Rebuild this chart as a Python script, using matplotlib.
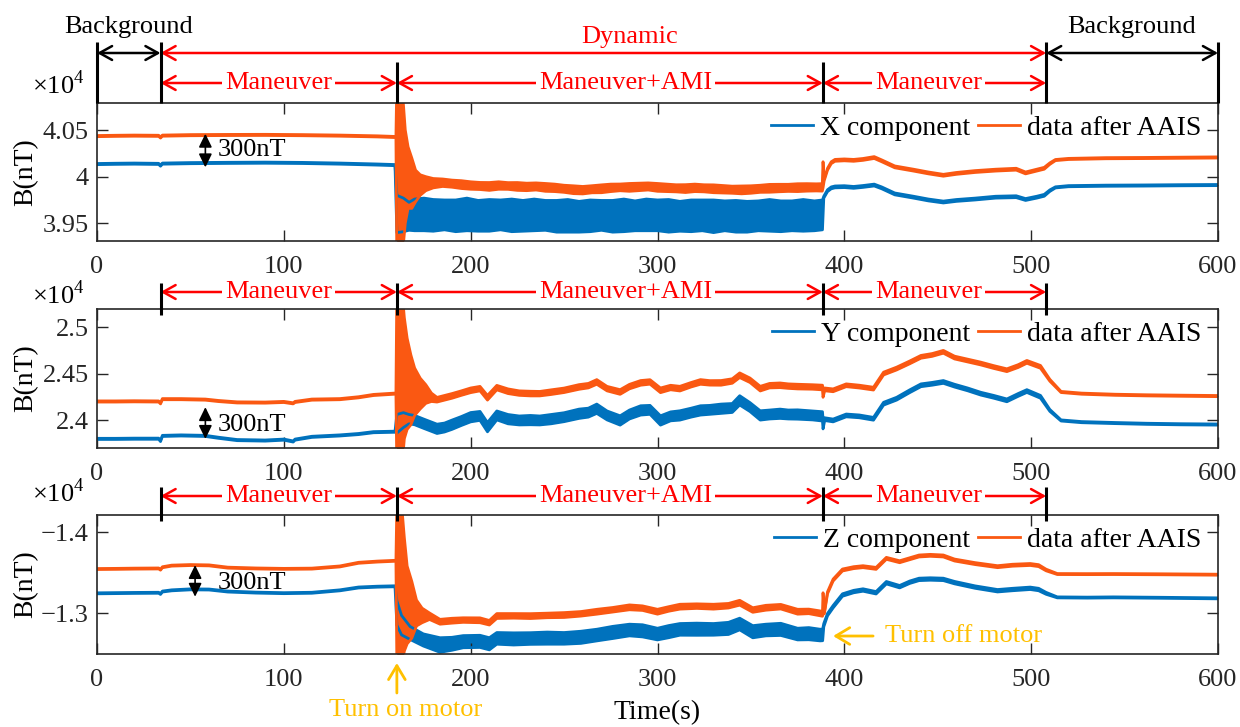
import matplotlib
matplotlib.use('Agg')
import matplotlib.pyplot as plt
import numpy as np
from matplotlib import transforms
from matplotlib.lines import Line2D

plt.rcParams['font.family'] = ['Liberation Serif', 'DejaVu Serif']
plt.rcParams['mathtext.fontset'] = 'custom'
plt.rcParams['mathtext.rm'] = 'Liberation Serif'
plt.rcParams['font.size'] = 19

# ---- data (nT): rows are [time, centre, half band width of the noise] ----
x_raw = [
    [0, 40135, 6], [10, 40138, 6], [20, 40140, 6], [33, 40137, 6], [34, 40118, 6], [35, 40140, 6],
    [50, 40145, 6], [70, 40148, 6], [90, 40150, 6], [110, 40147, 6], [130, 40140, 6], [150, 40130, 6],
    [159.5, 40124, 6],
    [160.5, 39600, 200], [164, 39590, 180], [167, 39575, 150], [170, 39590, 170], [175, 39595, 175],
    [180, 39585, 170], [186, 39590, 160], [192, 39580, 170], [198, 39595, 175], [204, 39580, 165],
    [210, 39585, 170], [216, 39590, 160], [222, 39585, 175], [228, 39580, 165], [234, 39590, 170],
    [240, 39585, 160], [246, 39575, 170], [252, 39580, 175], [258, 39570, 165], [264, 39580, 170],
    [270, 39585, 160], [276, 39575, 170], [282, 39585, 175], [288, 39580, 160], [294, 39590, 170],
    [300, 39585, 165], [306, 39580, 175], [312, 39575, 160], [318, 39580, 170], [324, 39585, 165],
    [330, 39575, 175], [336, 39580, 160], [342, 39575, 170], [348, 39570, 165], [354, 39580, 160],
    [360, 39585, 170], [366, 39575, 165], [372, 39580, 160], [378, 39585, 170], [384, 39580, 160],
    [388.3, 39590, 160],
    [389, 39780, 10], [391, 39850, 10], [393, 39880, 10], [395, 39890, 10], [400, 39893, 10],
    [405, 39885, 10], [410, 39895, 10], [416, 39910, 10], [420, 39880, 10], [427, 39815, 10],
    [437, 39780, 10], [445, 39750, 10], [453, 39728, 10], [460, 39745, 10], [470, 39760, 10],
    [481, 39780, 10], [492, 39785, 10], [497, 39755, 10], [503, 39780, 10], [507, 39800, 10],
    [510, 39850, 8], [513, 39885, 6], [520, 39898, 6], [540, 39903, 6], [560, 39905, 6],
    [580, 39908, 6], [600, 39910, 6],
]
x_aais = [
    [0, 40435, 6], [10, 40438, 6], [20, 40440, 6], [33, 40438, 6], [34, 40420, 6], [35, 40440, 6],
    [50, 40445, 6], [70, 40447, 6], [90, 40448, 6], [110, 40445, 6], [130, 40440, 6], [150, 40432, 6],
    [160, 40425, 6],
    [160.5, 40050, 1000], [163, 40050, 1000], [165, 40000, 500], [166.5, 39990, 330],
    [168.5, 39930, 270], [170.5, 39900, 170], [173, 39910, 110], [176, 39925, 75], [180, 39930, 50],
    [185, 39935, 40], [190, 39925, 38], [195, 39915, 42], [200, 39905, 40], [205, 39900, 38],
    [210, 39895, 42], [215, 39905, 40], [220, 39900, 36], [225, 39895, 42], [230, 39890, 40],
    [235, 39895, 38], [240, 39885, 42], [245, 39880, 40], [250, 39870, 38], [255, 39860, 42],
    [260, 39855, 40], [265, 39865, 38], [270, 39870, 42], [275, 39880, 40], [280, 39885, 36],
    [285, 39885, 42], [290, 39890, 40], [295, 39895, 38], [300, 39885, 42], [305, 39880, 40],
    [310, 39875, 38], [315, 39872, 42], [320, 39880, 40], [325, 39875, 38], [330, 39870, 42],
    [335, 39865, 40], [340, 39860, 38], [345, 39858, 42], [350, 39862, 40], [355, 39870, 38],
    [360, 39875, 42], [365, 39878, 40], [370, 39880, 38], [375, 39882, 42], [380, 39885, 40],
    [385, 39885, 38], [388.2, 39885, 40],
    [388.6, 40020, 140], [389.2, 39965, 10], [391, 40080, 10], [393, 40150, 10], [395, 40175, 10],
    [400, 40180, 10], [405, 40175, 10], [410, 40185, 10], [416, 40205, 10], [420, 40170, 10],
    [427, 40105, 10], [437, 40070, 10], [445, 40040, 10], [453, 40015, 10], [460, 40035, 10],
    [470, 40055, 10], [481, 40070, 10], [492, 40080, 10], [497, 40040, 10], [503, 40070, 10],
    [507, 40090, 10], [510, 40140, 8], [513, 40178, 6], [520, 40190, 6], [540, 40198, 6],
    [560, 40200, 6], [580, 40203, 6], [600, 40206, 6],
]

y_raw = [
    [0, 23798, 6], [10, 23798, 6], [20, 23800, 6], [33, 23800, 6], [34, 23775, 6], [35, 23830, 6],
    [45, 23835, 6], [58, 23830, 6], [65, 23810, 6], [75, 23785, 6], [90, 23780, 6], [100, 23790, 6],
    [105, 23770, 6], [106, 23790, 6], [115, 23820, 6], [130, 23835, 6], [140, 23850, 6],
    [148, 23870, 6], [159.5, 23875, 6],
    [160.5, 23960, 100], [164, 24000, 80], [167, 24010, 50], [170, 24000, 50], [175, 23960, 50],
    [182, 23906, 50], [186, 23920, 48], [190, 23950, 50], [195, 23990, 48], [200, 24031, 50],
    [205, 24045, 48], [209, 23924, 50], [214, 24050, 48], [220, 24010, 50], [226, 23996, 48],
    [232, 24000, 50], [237, 23996, 48], [243, 24010, 50], [250, 24031, 48], [258, 24068, 50],
    [263, 24080, 48], [267.5, 24122, 50], [273, 24050, 48], [280, 23996, 50], [285, 24060, 48],
    [291, 24104, 50], [296, 24110, 48], [301.6, 23996, 50], [307, 24040, 48], [312, 24050, 50],
    [318, 24080, 48], [323, 24104, 50], [328, 24110, 48], [334, 24122, 50], [340, 24130, 48],
    [344, 24212, 50], [349.5, 24140, 48], [355, 24050, 50], [360, 24060, 48], [365.6, 24068, 50],
    [370, 24060, 48], [375, 24060, 50], [383, 24050, 48], [388.3, 24040, 50],
    [388.6, 23960, 55], [389.5, 24010, 15], [394, 23996, 15], [401, 24050, 15], [408, 24040, 15],
    [415.6, 24014, 15], [421, 24176, 15], [428, 24230, 15], [435, 24310, 15], [441, 24374, 15],
    [447, 24390, 15], [453, 24410, 15], [459, 24370, 15], [466, 24330, 15], [473, 24284, 15],
    [480, 24250, 15], [487, 24212, 15], [493, 24270, 15], [497.7, 24312, 15], [505, 24250, 15],
    [510, 24104, 10], [516, 23996, 6], [527, 23978, 6], [545, 23968, 6], [562, 23960, 6],
    [580, 23955, 6], [600, 23952, 6],
]
y_aais = [
    [0, 24200, 6], [10, 24200, 6], [20, 24202, 6], [33, 24200, 6], [34, 24180, 6], [35, 24225, 6],
    [45, 24225, 6], [58, 24220, 6], [65, 24205, 6], [75, 24190, 6], [90, 24188, 6], [100, 24195, 6],
    [105, 24180, 6], [106, 24195, 6], [115, 24220, 6], [130, 24225, 6], [140, 24245, 6],
    [148, 24270, 6], [160, 24285, 6],
    [160.5, 24450, 1000], [163, 24450, 1000], [164.5, 24450, 650], [166, 24390, 490],
    [168, 24325, 375], [170, 24305, 255], [173, 24285, 165], [176, 24280, 100], [179, 24245, 45],
    [182, 24219, 25], [190, 24260, 25], [195, 24290, 24], [200, 24320, 25], [205, 24338, 24],
    [209, 24240, 25], [214, 24349, 24], [220, 24310, 25], [226, 24290, 24], [232, 24285, 25],
    [237, 24284, 24], [243, 24300, 25], [250, 24320, 24], [258, 24356, 25], [263, 24370, 24],
    [267.5, 24410, 25], [273, 24338, 24], [280, 24302, 25], [285, 24360, 24], [291, 24400, 25],
    [296, 24410, 24], [301.6, 24320, 25], [307, 24350, 24], [312, 24338, 25], [318, 24380, 24],
    [323, 24410, 25], [328, 24400, 24], [334, 24400, 25], [340, 24420, 24], [344, 24482, 25],
    [349.5, 24428, 24], [355, 24338, 25], [360, 24370, 24], [365.6, 24374, 25], [370, 24365, 24],
    [375, 24360, 25], [383, 24356, 24], [388.3, 24350, 25],
    [388.6, 24290, 45], [389.5, 24330, 15], [394, 24320, 15], [401, 24374, 15], [408, 24360, 15],
    [415.6, 24338, 15], [421, 24500, 15], [428, 24554, 15], [435, 24620, 15], [441, 24680, 15],
    [447, 24700, 15], [453, 24734, 15], [459, 24672, 15], [466, 24640, 15], [473, 24608, 15],
    [480, 24570, 15], [487, 24536, 15], [493, 24580, 15], [497.7, 24626, 15], [505, 24572, 15],
    [510, 24428, 10], [516, 24302, 6], [527, 24284, 6], [545, 24272, 6], [562, 24266, 6],
    [580, 24262, 6], [600, 24258, 6],
]

z_raw = [
    [0, -13243, 6], [20, -13248, 6], [33, -13250, 6], [34, -13235, 6], [35, -13265, 6],
    [40, -13280, 6], [50, -13292, 6], [60, -13290, 6], [70, -13265, 6], [85, -13252, 6],
    [100, -13245, 6], [115, -13250, 6], [130, -13280, 6], [140, -13315, 6], [150, -13325, 6],
    [159.5, -13330, 6],
    [160.5, -13000, 150], [163, -12850, 120], [167.6, -12753, 80], [174.7, -12667, 75],
    [183.6, -12605, 90], [190, -12620, 80], [196, -12646, 75], [205, -12650, 75], [210, -12620, 75],
    [214, -12687, 72], [223, -12680, 75], [232, -12685, 72], [241, -12690, 75], [250, -12687, 72],
    [259, -12700, 75], [267.6, -12728, 72], [276, -12760, 75], [285, -12790, 72], [292, -12780, 75],
    [300, -12740, 72], [306, -12770, 75], [312, -12798, 72], [321, -12800, 75], [330, -12798, 72],
    [338, -12810, 75], [344, -12864, 72], [351, -12769, 75], [358, -12790, 72], [366, -12798, 75],
    [375, -12740, 72], [381, -12745, 75], [387, -12728, 72], [388.4, -12730, 72],
    [389, -12850, 20], [391, -12980, 15], [394, -13078, 15], [399, -13222, 15], [405, -13265, 15],
    [410, -13284, 15], [417, -13250, 15], [422.5, -13374, 15], [429.6, -13325, 15], [435, -13380, 15],
    [440, -13415, 15], [446, -13420, 15], [453, -13415, 15], [459, -13375, 15], [470, -13320, 15],
    [482, -13275, 15], [490, -13290, 15], [499.5, -13305, 15], [504, -13290, 15], [508, -13243, 12],
    [514, -13193, 6], [530, -13190, 6], [544, -13193, 6], [570, -13188, 6], [600, -13181, 6],
]
z_aais = [
    [0, -13543, 6], [10, -13545, 6], [20, -13548, 6], [33, -13550, 6], [34, -13535, 6],
    [35, -13565, 6], [40, -13585, 6], [50, -13592, 6], [60, -13588, 6], [70, -13560, 6],
    [85, -13550, 6], [100, -13545, 6], [115, -13548, 6], [130, -13575, 6], [140, -13620, 6],
    [150, -13635, 6], [160, -13645, 6],
    [160.5, -13350, 1000], [163, -13350, 1000], [164.5, -13230, 700], [166, -13100, 480],
    [168.5, -13040, 350], [171, -13000, 160], [174, -12970, 90], [178, -12960, 40],
    [183.6, -12892, 30], [190, -12905, 30], [196, -12913, 28], [205, -12910, 30], [210, -12880, 28],
    [214, -12963, 30], [223, -12965, 28], [232, -12962, 30], [241, -12970, 28], [250, -12975, 30],
    [259, -12990, 28], [267.6, -13016, 30], [276, -13040, 28], [285, -13070, 30], [292, -13060, 28],
    [300, -13016, 30], [306, -13050, 28], [312, -13078, 30], [321, -13085, 28], [330, -13078, 30],
    [338, -13090, 28], [344, -13127, 30], [351, -13037, 28], [358, -13065, 30], [366, -13078, 28],
    [375, -13016, 30], [381, -13020, 28], [387, -12996, 30], [388.3, -12990, 30],
    [388.6, -13120, 130], [389.3, -13000, 10], [391, -13250, 12], [394, -13407, 12],
    [399, -13531, 12], [405, -13560, 12], [410, -13572, 12], [417, -13551, 12], [422.5, -13675, 12],
    [429.6, -13633, 12], [435, -13670, 12], [440, -13704, 12], [446, -13712, 12], [453, -13704, 12],
    [459, -13654, 12], [470, -13610, 12], [482, -13572, 12], [490, -13590, 12], [499.5, -13599, 12],
    [504, -13585, 12], [508, -13531, 10], [514, -13481, 6], [530, -13480, 6], [544, -13481, 6],
    [570, -13478, 6], [600, -13473, 6],
]

components = ['X component', 'Y component', 'Z component']
after_label = 'data after AAIS'
x_ticks = [0, 100, 200, 300, 400, 500, 600]
y_ticks = [[39500, 40000, 40500], [24000, 24500, 25000], [-14000, -13000]]
y_ticklabels = [['3.95', '4', '4.05'], ['2.4', '2.45', '2.5'], ['\u22121.4', '\u22121.3']]
y_limits = [(39310, 40790), (23700, 25194), (-12494, -14210)]

# phase boundaries (s)
t_start, t_on, t_off, t_end = 34, 160.5, 388.5, 508

BLUE = '#0072BD'
ORANGE = '#FA5812'
RED = '#FF0000'
GOLD = '#FFC000'
AX_COL = '#262626'

W, H = 1240, 727
fig = plt.figure(figsize=(12.4, 7.27), dpi=100)


def fx(px):
    return px / W


def fy(py):
    return 1 - py / H


boxes = [(103, 241), (309, 448), (515, 654)]
raw_sets = [x_raw, y_raw, z_raw]
aais_sets = [x_aais, y_aais, z_aais]
axes = []

for i in range(3):
    top, bot = boxes[i]
    ax = fig.add_axes([fx(97), fy(bot), fx(1218) - fx(97), (bot - top) / H])
    axes.append(ax)
    for rows, col, lab in [(raw_sets[i], BLUE, components[i]), (aais_sets[i], ORANGE, after_label)]:
        t, c, s = np.array(rows, dtype=float).T
        ax.fill_between(t, c - s, c + s, color=col, lw=0)
        ax.plot(t, c - s, color=col, lw=2.0, label=lab)
        ax.plot(t, c + s, color=col, lw=2.0)
    ax.set_xlim(0, 600)
    ax.set_ylim(*y_limits[i])
    ax.set_xticks(x_ticks)
    ax.set_xticklabels([str(v) for v in x_ticks])
    ax.set_yticks(y_ticks[i])
    ax.set_yticklabels(y_ticklabels[i])
    ax.tick_params(direction='in', length=8, width=1, top=True, right=True,
                   labelsize=19, colors=AX_COL)
    ax.tick_params(axis='x', pad=11)
    ax.tick_params(axis='y', pad=6)
    for sp in ax.spines.values():
        sp.set_color(AX_COL)
        sp.set_linewidth(1.2)
    ax.legend(loc='upper right', bbox_to_anchor=(0.99, 0.95), ncol=2, frameon=False,
              fontsize=20, handlelength=1.5, handletextpad=0.25, columnspacing=0.3,
              borderaxespad=0, borderpad=0.2)
    fig.text(fx(32), fy([94, 304, 502][i]), '\u00d710$^{4}$', ha='left', va='baseline', fontsize=19)
    fig.text(fx(26), fy((top + bot) / 2), 'B(nT)', rotation=90, ha='center', va='center', fontsize=20)

    # 300nT marker
    ax.annotate('', xy=([58, 58, 52.5][i], [40100, 23798, -13201][i]),
                xytext=([58, 58, 52.5][i], [40460, 24139, -13592][i]),
                arrowprops=dict(arrowstyle='<|-|>,head_length=0.45,head_width=0.22',
                                color='k', lw=1.2, shrinkA=0, shrinkB=0, mutation_scale=18))
    ax.text(64.8, [40285, 23942, -13370][i], '300nT', ha='left', va='center', fontsize=19)


def hline_arrow(ax, t1, t2, ypx, color):
    tr = transforms.blended_transform_factory(ax.transData, fig.transFigure)
    ax.annotate('', xy=(t2, fy(ypx)), xytext=(t1, fy(ypx)), xycoords=tr, textcoords=tr,
                annotation_clip=False,
                arrowprops=dict(arrowstyle='<->,head_length=0.45,head_width=0.25', color=color,
                                lw=1.8, shrinkA=0, shrinkB=0, mutation_scale=20))


def vline(ax, t, y0, y1):
    tr = transforms.blended_transform_factory(ax.transData, fig.transFigure)
    fig.add_artist(Line2D([t, t], [fy(y0), fy(y1)], transform=tr, color='k', lw=2.2,
                          solid_capstyle='butt'))


def label(ax, t, ypx, s, color, bg=True):
    tr = transforms.blended_transform_factory(ax.transData, fig.transFigure)
    kw = dict(facecolor='white', edgecolor='none', pad=2) if bg else None
    ax.text(t, fy(ypx), s, transform=tr, ha='center', va='center', color=color,
            fontsize=19, bbox=kw, zorder=6, clip_on=False)


ax1 = axes[0]
# top row: background / dynamic
for t in [0, t_start, t_end, 600]:
    vline(ax1, t, 42, 103)
hline_arrow(ax1, 0, t_start, 53, 'k')
hline_arrow(ax1, t_start, t_end, 53, RED)
hline_arrow(ax1, t_end, 600, 53, 'k')
label(ax1, 17, 27, 'Background', 'k', bg=False)
label(ax1, 554, 27, 'Background', 'k', bg=False)
label(ax1, 285, 37, 'Dynamic', RED, bg=False)

rows_y = [83, 292, 496]
for i, ax in enumerate(axes):
    yr = rows_y[i]
    if i == 0:
        for t in [t_on, t_off]:
            vline(ax, t, 62, 103)
    else:
        top = boxes[i][0]
        for t in [t_start, t_on, t_off, t_end]:
            vline(ax, t, yr - 9, top + 6)
    hline_arrow(ax, t_start, t_on, yr, RED)
    hline_arrow(ax, t_on, t_off, yr, RED)
    hline_arrow(ax, t_off, t_end, yr, RED)
    label(ax, 97, yr, 'Maneuver', RED)
    label(ax, 283, yr, 'Maneuver+AMI', RED)
    label(ax, 445, yr, 'Maneuver', RED)

ax3 = axes[2]
tr3 = transforms.blended_transform_factory(ax3.transData, fig.transFigure)
ax3.annotate('', xy=(t_on, fy(663)), xytext=(t_on, fy(693)), xycoords=tr3, textcoords=tr3,
             annotation_clip=False,
             arrowprops=dict(arrowstyle='->,head_length=0.5,head_width=0.3', color=GOLD, lw=2,
                             shrinkA=0, shrinkB=0, mutation_scale=20))
ax3.text(165.4, fy(710), 'Turn on motor', transform=tr3, ha='center', va='center',
         color=GOLD, fontsize=19)
ax3.annotate('', xy=(394, -12716), xytext=(415.4, -12716),
             arrowprops=dict(arrowstyle='->,head_length=0.5,head_width=0.3', color=GOLD, lw=2,
                             shrinkA=0, shrinkB=0, mutation_scale=20))
ax3.text(421.8, -12716, 'Turn off motor', ha='left', va='center', color=GOLD, fontsize=19)

fig.text(fx(657), fy(713), 'Time(s)', ha='center', va='center', fontsize=20)

fig.savefig('out.png', dpi=100)
